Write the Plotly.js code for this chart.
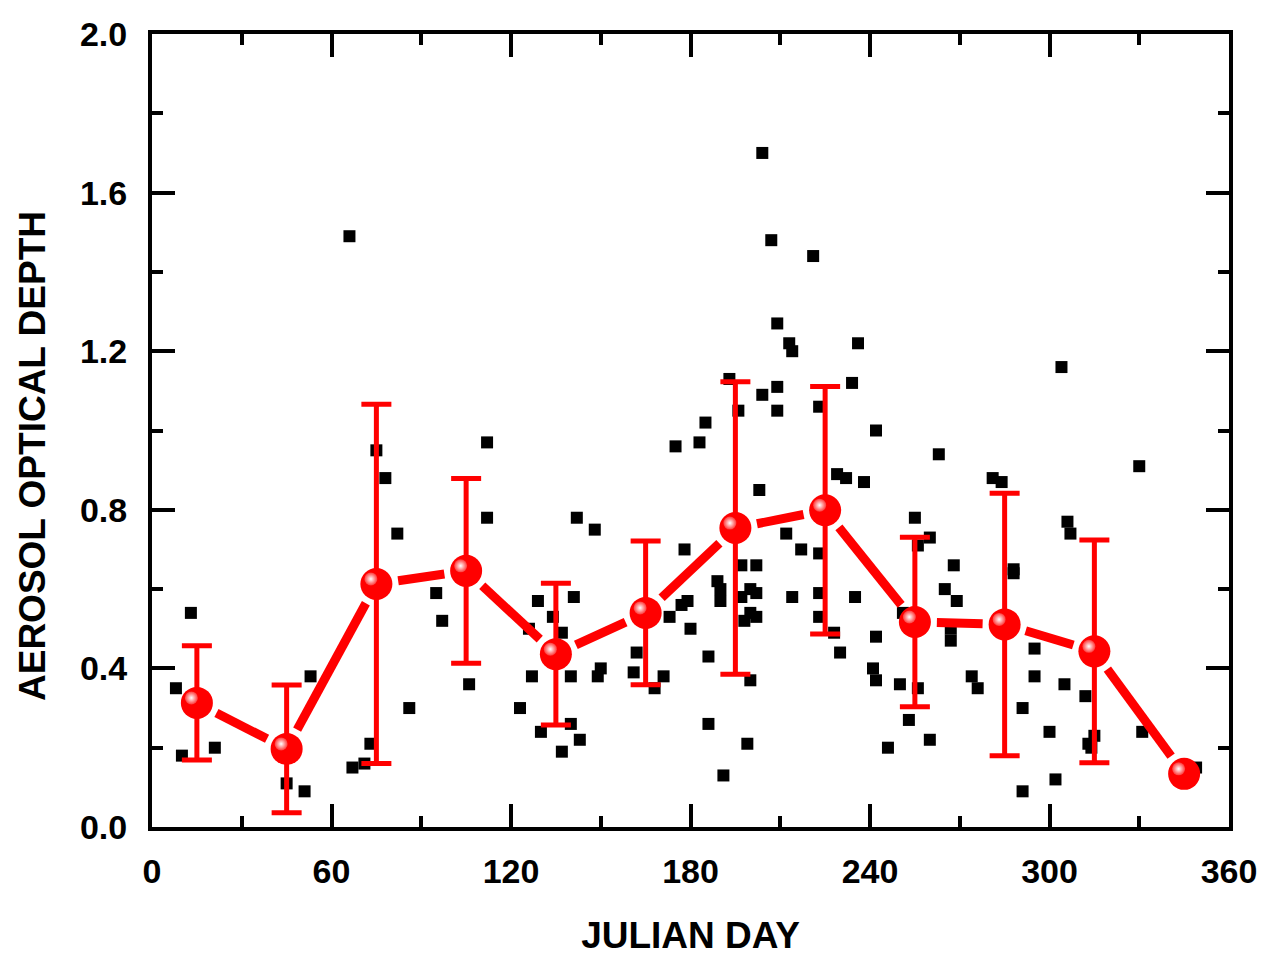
<!DOCTYPE html>
<html>
<head>
<meta charset="utf-8">
<script src="https://cdn.plot.ly/plotly-3.0.1.min.js"></script>
<style>html,body{margin:0;padding:0;background:#fff;}#chart{width:1265px;height:956px;}</style>
</head>
<body>
<div id="chart"></div>
<script>
// Daily observations (Julian day, aerosol optical depth)
const obsDay = [8,10,13,21,45,51,53,66,67,71,73,75,78,82,86,95,97,106,112,112,
  123,126,127,129,130,134,137,137,140,140,141,142,143,148,149,150,161,162,168,171,
  173,175,177,179,180,178,183,185,186,186,189,190,190,191,193,196,197,197,198,199,
  200,200,200,202,202,202,203,204,204,207,209,209,209,212,213,214,214,217,221,223,
  223,223,223,228,229,230,232,234,235,236,238,241,242,242,242,246,250,251,253,255,
  256,256,260,260,263,265,267,267,268,269,274,276,281,284,288,288,291,291,295,295,
  300,302,304,305,306,307,312,313,314,315,330,331,349];
const obsAOD = [0.35,0.18,0.54,0.20,0.11,0.09,0.38,1.49,0.15,0.16,0.21,0.95,0.88,0.74,0.30,0.59,0.52,0.36,0.97,0.78,
  0.30,0.50,0.38,0.57,0.24,0.53,0.49,0.19,0.38,0.26,0.58,0.78,0.22,0.75,0.38,0.40,0.39,0.44,0.35,0.38,
  0.53,0.96,0.56,0.57,0.50,0.70,0.97,1.02,0.43,0.26,0.62,0.60,0.57,0.13,1.13,1.05,0.66,0.58,0.52,0.21,
  0.37,0.60,0.54,0.66,0.59,0.53,0.85,1.09,1.70,1.48,1.27,1.11,1.05,0.74,1.22,1.20,0.58,0.70,1.44,1.06,
  0.69,0.59,0.53,0.49,0.89,0.44,0.88,1.12,0.58,1.22,0.87,0.40,1.00,0.48,0.37,0.20,0.36,0.54,0.27,0.78,
  0.71,0.35,0.73,0.22,0.94,0.60,0.50,0.47,0.66,0.57,0.38,0.35,0.88,0.87,0.65,0.64,0.30,0.09,0.45,0.38,
  0.24,0.12,1.16,0.36,0.77,0.74,0.33,0.21,0.20,0.23,0.91,0.24,0.15];

// Monthly means with standard deviation
const meanDay = [15,45,75,105,135,165,195,225,255,285,315,345];
const meanAOD = [0.313,0.197,0.613,0.646,0.436,0.540,0.754,0.799,0.517,0.511,0.443,0.134];
const meanSD  = [0.144,0.161,0.453,0.233,0.179,0.181,0.369,0.312,0.214,0.331,0.281,0];

const xTitle = 'JULIAN DAY';
const yTitle = 'AEROSOL OPTICAL DEPTH';

const xRange = [0, 360], yRange = [0, 2];
const M = {l:152, r:36, t:34, b:129};
const W = 1265, H = 956;
const pxX = (W - M.l - M.r) / (xRange[1] - xRange[0]);
const pxY = (H - M.t - M.b) / (yRange[1] - yRange[0]);

// Connecting line with gaps around each mean marker
const gap = 22;
const segX = [], segY = [];
for (let i = 0; i < meanDay.length - 1; i++) {
  const dx = (meanDay[i+1] - meanDay[i]) * pxX;
  const dy = (meanAOD[i+1] - meanAOD[i]) * pxY;
  const L = Math.hypot(dx, dy);
  const f = gap / L;
  segX.push(meanDay[i] + (meanDay[i+1]-meanDay[i]) * f, meanDay[i+1] - (meanDay[i+1]-meanDay[i]) * f, null);
  segY.push(meanAOD[i] + (meanAOD[i+1]-meanAOD[i]) * f, meanAOD[i+1] - (meanAOD[i+1]-meanAOD[i]) * f, null);
}
const hlX = meanDay.map(d => d - 5.5 / pxX);
const hlY = meanAOD.map(v => v + 5 / pxY);

const font = 'Liberation Sans, Arial, Helvetica, sans-serif';
const traces = [
  {x: obsDay, y: obsAOD, type: 'scatter', mode: 'markers',
   marker: {symbol: 'square', size: 12, color: '#000'}, hoverinfo: 'x+y'},
  {x: segX, y: segY, type: 'scatter', mode: 'lines',
   line: {color: '#ff0000', width: 9}, hoverinfo: 'skip'},
  {x: meanDay, y: meanAOD, type: 'scatter', mode: 'markers',
   error_y: {type: 'data', array: meanSD, visible: true, color: '#ff0000', thickness: 5, width: 15},
   marker: {symbol: 'circle', size: 32, color: '#ff0000', line: {width: 0}}},
  {x: hlX, y: hlY, type: 'scatter', mode: 'markers', hoverinfo: 'skip',
   marker: {symbol: 'circle', size: 13, color: '#ff3a3a', line: {width: 0},
            gradient: {type: 'radial', color: '#ffffff'}}}
];

const axisCommon = {
  showgrid: false, zeroline: false, showline: true, linecolor: '#000', linewidth: 4,
  mirror: 'ticks', ticks: 'inside', ticklen: 23, tickwidth: 4, tickcolor: '#000',
  fixedrange: true
};
const layout = {
  width: W, height: H, margin: M, showlegend: false,
  paper_bgcolor: '#fff', plot_bgcolor: '#fff',
  xaxis: Object.assign({}, axisCommon, {
    range: xRange, tick0: 0, dtick: 60,
    minor: {dtick: 30, ticks: 'inside', ticklen: 11, tickwidth: 4, tickcolor: '#000'},
    tickfont: {family: font, size: 34, color: '#000', weight: 'bold'},
    ticklabelstandoff: 11,
    title: {text: xTitle, font: {family: font, size: 37, color: '#000', weight: 'bold'}, standoff: 38}
  }),
  yaxis: Object.assign({}, axisCommon, {
    range: yRange, tick0: 0, dtick: 0.4, tickformat: '.1f',
    minor: {dtick: 0.2, ticks: 'inside', ticklen: 11, tickwidth: 4, tickcolor: '#000'},
    tickfont: {family: font, size: 34, color: '#000', weight: 'bold'},
    ticklabelstandoff: 14
  }),
  annotations: [{
    text: yTitle, textangle: -90, showarrow: false,
    xref: 'paper', yref: 'paper', x: (32 - M.l) / (W - M.l - M.r), y: (H - M.b - 456) / (H - M.t - M.b),
    xanchor: 'center', yanchor: 'middle',
    font: {family: font, size: 37, color: '#000', weight: 'bold'}
  }]
};
Plotly.newPlot('chart', traces, layout, {displayModeBar: false, staticPlot: true});
</script>
</body>
</html>
